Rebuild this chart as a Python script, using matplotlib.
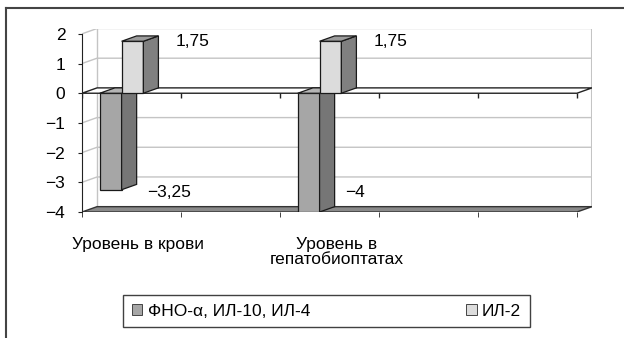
import matplotlib
matplotlib.use("Agg")
import matplotlib.pyplot as plt
from matplotlib import font_manager
from matplotlib.patches import Polygon, Patch
from matplotlib.lines import Line2D

# data
categories = ["Уровень в крови", "Уровень в\nгепатобиоптатах"]
cat_slots = [0, 2]          # positions on the 5-slot category axis
n_slots = 5
series_names = ["ФНО-α, ИЛ-10, ИЛ-4", "ИЛ-2"]
tnf_il10_il4 = [-3.25, -4]
il2 = [1.75, 1.75]
y_ticks = [-4, -3, -2, -1, 0, 1, 2]

# pick a narrow sans if it is there
names = {f.name for f in font_manager.fontManager.ttflist}
fam = [n for n in ["Liberation Sans Narrow", "Arial Narrow", "Liberation Sans", "DejaVu Sans"] if n in names]
plt.rcParams["font.family"] = fam
plt.rcParams["font.size"] = 12.5

W, H = 624, 338
fig = plt.figure(figsize=(W / 100, H / 100), dpi=100)

DX, DY = 0.152, 0.18      # depth offset of the 3d box, data units
ymin, ymax = y_ticks[0], y_ticks[-1]
left, right, bottom, top = 82, 592, 212, 28.5
ax = fig.add_axes([left / W, 1 - bottom / H, (right - left) / W, (bottom - top) / H])
ax.set_xlim(0, n_slots + DX)
ax.set_ylim(ymin, ymax + DY)
ax.patch.set_visible(False)
for s in ["top", "right", "bottom"]:
    ax.spines[s].set_visible(False)
ax.spines["left"].set_bounds(ymin, ymax)
ax.spines["left"].set_color("#222222")
ax.set_yticks(y_ticks)
ax.set_yticklabels([str(v).replace("-", "\u2212") for v in y_ticks])
ax.tick_params(axis="y", length=3, pad=9, color="#222222")

# category labels + boundary ticks under the floor
ax.set_xticks([s + 0.57 for s in cat_slots])
ax.set_xticklabels(categories, linespacing=1.0)
ax.set_xticks(range(n_slots + 1), minor=True)
ax.tick_params(axis="x", which="major", length=0, pad=18)
ax.tick_params(axis="x", which="minor", length=3.5, color="#222222")

# side wall + back wall gridlines
grid_c = "#c4c4c4"
for v in y_ticks[1:]:
    if v == 0:
        continue
    ax.plot([0, DX, n_slots + DX], [v, v + DY, v + DY], color=grid_c, lw=1, zorder=1)
ax.plot([DX, DX], [ymin + DY, ymax + DY], color=grid_c, lw=1, zorder=1)
ax.plot([n_slots + DX] * 2, [ymin + DY, ymax + DY], color=grid_c, lw=1.5, zorder=1)

# floor slab at the bottom
floor = [(0, ymin), (n_slots, ymin), (n_slots + DX, ymin + DY), (DX, ymin + DY)]
ax.add_patch(Polygon(floor, closed=True, fc="#8a8a8a", ec="#333333", lw=1, zorder=2))

# zero plane with its own ticks
zero = [(0, 0), (n_slots, 0), (n_slots + DX, DY), (DX, DY)]
ax.add_patch(Polygon(zero, closed=True, fc="white", ec="#222222", lw=1, zorder=2))
ax.vlines(range(n_slots + 1), -0.15, 0, color="#222222", lw=1, zorder=2)

bar_off, bar_w = 0.18, 0.22
faces = [
    dict(front="#a6a6a6", side="#767676", top="#b5b5b5"),
    dict(front="#dcdcdc", side="#808080", top="#9c9c9c"),
]


def draw_bar(x, v, st):
    y0 = 0
    ax.bar(x, v, width=bar_w, bottom=y0, align="edge", color=st["front"],
           edgecolor="#1a1a1a", lw=0.9, zorder=3)
    xr = x + bar_w
    side = [(xr, y0), (xr, v), (xr + DX, v + DY), (xr + DX, y0 + DY)]
    ax.add_patch(Polygon(side, closed=True, fc=st["side"], ec="#1a1a1a", lw=0.9, zorder=3))
    yt = max(v, y0)
    cap = [(x, yt), (xr, yt), (xr + DX, yt + DY), (x + DX, yt + DY)]
    ax.add_patch(Polygon(cap, closed=True, fc=st["top"], ec="#1a1a1a", lw=0.9, zorder=3))


for k, slot in enumerate(cat_slots):
    x1 = slot + bar_off
    x2 = x1 + bar_w
    draw_bar(x1, tnf_il10_il4[k], faces[0])
    draw_bar(x2, il2[k], faces[1])

    v = il2[k]
    ax.text(x2 + bar_w + DX + 0.17, v, f"{v:g}".replace(".", ","),
            ha="left", va="center", zorder=5)
    v = tnf_il10_il4[k]
    ly = max(v, ymin + 0.75) - 0.08
    ax.text(x1 + bar_w + DX + 0.11, ly, f"{v:g}".replace(".", ",").replace("-", "\u2212"),
            ha="left", va="center", zorder=5)

# legend
handles = [Patch(fc=faces[0]["front"], ec="#444444", lw=0.7),
           Patch(fc=faces[1]["front"], ec="#444444", lw=0.7)]
leg = fig.legend(handles, series_names, ncol=2, loc="center",
                 bbox_to_anchor=((122 + 531) / 2 / W, 1 - 311 / H),
                 frameon=True, fancybox=False, edgecolor="#111111",
                 handlelength=0.6, handleheight=0.6, handletextpad=0.3,
                 columnspacing=9.0, borderpad=0.5, borderaxespad=0)
leg.get_frame().set_linewidth(1.0)

# outer chart frame (left and top edges)
fig.add_artist(Line2D([6 / W, 6 / W], [0, 1 - 8 / H], color="#444444", lw=1.5))
fig.add_artist(Line2D([6 / W, 1], [1 - 8 / H, 1 - 8 / H], color="#444444", lw=1.5))

fig.savefig("out.png", dpi=100)
